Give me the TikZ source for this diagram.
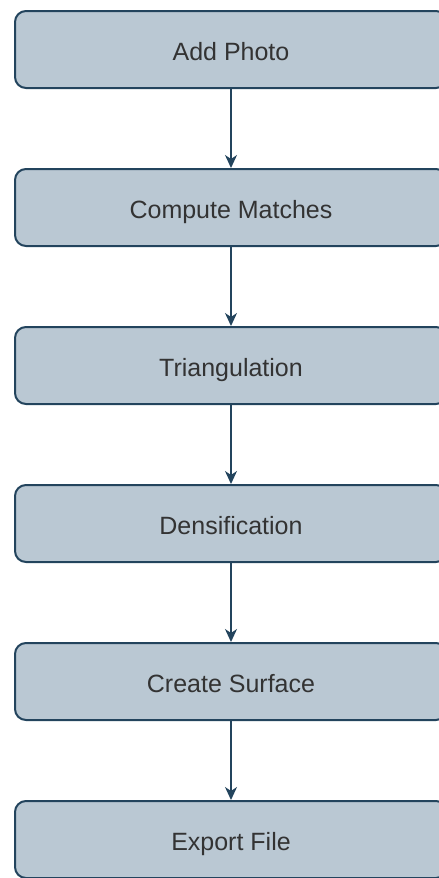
\documentclass[tikz,border=0pt]{standalone}
\usepackage{fontspec}
\setmainfont{Liberation Sans}
\usetikzlibrary{positioning,arrows.meta}
\definecolor{boxfill}{HTML}{BAC8D3}
\definecolor{boxline}{HTML}{23445D}
\begin{document}
\begin{tikzpicture}[x=1pt,y=1pt,node distance=79pt,
	stepbox/.style={draw=boxline,fill=boxfill,line width=2pt,rounded corners=11pt,
		minimum width=432pt,minimum height=77pt,text height=21pt,text depth=0pt,
		font=\fontsize{25}{30}\selectfont,text=black!80},
	flow/.style={draw=boxline,line width=1.5pt,-{Stealth[length=13pt,width=12pt,inset=4pt]}}]
		\useasboundingbox (0,0) rectangle (439,-878);
		\node [stepbox] (1) at (231,-49.5) {Add Photo};
		\node [stepbox,below=of 1] (2) {Compute Matches};
		\node [stepbox,below=of 2] (3) {Triangulation};
		\node [stepbox,below=of 3] (4) {Densification};
		\node [stepbox,below=of 4] (5) {Create Surface};
		\node [stepbox,below=of 5] (6) {Export File};
		\draw [flow] (1) -- (2) ;
		\draw [flow] (2) -- (3) ;
		\draw [flow] (3) -- (4) ;
		\draw [flow] (4) -- (5) ;
		\draw [flow] (5) -- (6) ;
		\end{tikzpicture}
\end{document}
